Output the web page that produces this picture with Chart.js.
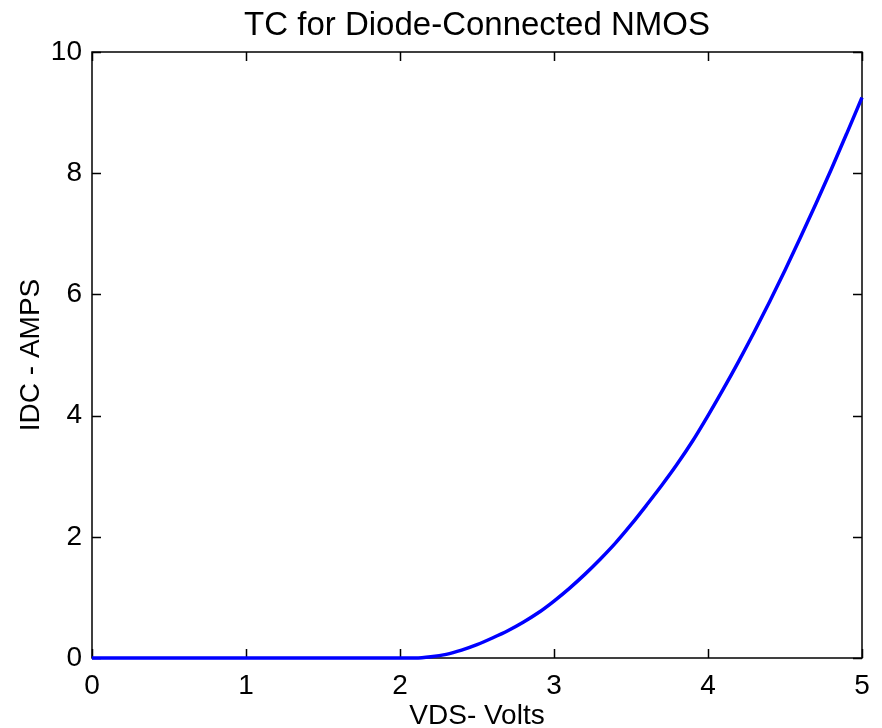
<!DOCTYPE html>
<html>
<head>
<meta charset="utf-8">
<title>TC for Diode-Connected NMOS</title>
<script src="https://cdn.jsdelivr.net/npm/chart.js@4.4.1/dist/chart.umd.min.js"></script>
<style>
  html, body { margin: 0; padding: 0; background: #fff; }
  #wrap { width: 882px; height: 728px; }
</style>
</head>
<body>
<div id="wrap"><canvas id="tcChart" width="882" height="728"></canvas></div>
<script>
// --- Sweep data: drain-source voltage (V) and drain current ---
const vds = [0, 0.5, 1, 1.5, 2, 2.1, 2.2, 2.3, 2.4, 2.5, 2.6, 2.7, 2.8, 2.9, 3,
  3.1, 3.2, 3.3, 3.4, 3.5, 3.6, 3.7, 3.8, 3.9, 4,
  4.1, 4.2, 4.3, 4.4, 4.5, 4.6, 4.7, 4.8, 4.9, 5];
const idc = [0, 0, 0, 0, 0, 0, 0.02, 0.06, 0.13, 0.22, 0.33, 0.45, 0.59, 0.75, 0.94,
  1.15, 1.38, 1.63, 1.90, 2.20, 2.52, 2.85, 3.20, 3.58, 4.00,
  4.44, 4.90, 5.38, 5.88, 6.40, 6.94, 7.49, 8.06, 8.65, 9.25];

const xTicks = [0, 1, 2, 3, 4, 5];
const yTicks = [0, 2, 4, 6, 8, 10];
const chartTitle = 'TC for Diode-Connected NMOS';

const FONT = "Arial, 'Liberation Sans', sans-serif";

// inward tick marks on all four sides plus the box frame
const boxFrame = {
    id: 'boxFrame',
    beforeDatasetsDraw(chart) {
        const { ctx, chartArea: a, scales } = chart;
        const len = 9;
        ctx.save();
        ctx.strokeStyle = '#000';
        ctx.lineWidth = 1.5;
        ctx.strokeRect(a.left, a.top, a.right - a.left, a.bottom - a.top);
        ctx.beginPath();
        xTicks.forEach(v => {
            const px = Math.round(scales.x.getPixelForValue(v)) + 0.5;
            ctx.moveTo(px, a.bottom); ctx.lineTo(px, a.bottom - len);
            ctx.moveTo(px, a.top); ctx.lineTo(px, a.top + len);
        });
        yTicks.forEach(v => {
            const py = Math.round(scales.y.getPixelForValue(v)) + 0.5;
            ctx.moveTo(a.left, py); ctx.lineTo(a.left + len, py);
            ctx.moveTo(a.right, py); ctx.lineTo(a.right - len, py);
        });
        ctx.stroke();
        ctx.restore();
    },
    // title centred over the plot box rather than the whole canvas
    afterDraw(chart) {
        const { ctx, chartArea: a } = chart;
        ctx.save();
        ctx.fillStyle = '#000';
        ctx.font = '33px ' + FONT;
        ctx.textAlign = 'center';
        ctx.textBaseline = 'alphabetic';
        ctx.fillText(chartTitle, (a.left + a.right) / 2, 35);
        ctx.restore();
    }
};

new Chart(document.getElementById('tcChart').getContext('2d'), {
    type: 'scatter',
    data: {
        datasets: [{
            data: vds.map((v, i) => ({ x: v, y: idc[i] })),
            showLine: true,
            borderColor: '#0000ff',
            borderWidth: 3.5,
            pointRadius: 0,
            cubicInterpolationMode: 'monotone',
            clip: 4
        }]
    },
    options: {
        responsive: false,
        animation: false,
        layout: { padding: { top: 52, right: 20, bottom: 0, left: 0 } },
        plugins: {
            legend: { display: false },
            tooltip: { enabled: false },
            title: { display: false }
        },
        scales: {
            x: {
                type: 'linear',
                min: 0, max: 5,
                afterBuildTicks: s => { s.ticks = xTicks.map(v => ({ value: v })); },
                afterFit: s => { s.height = 70; },
                grid: { display: false, drawTicks: false },
                border: { display: false },
                ticks: { color: '#000', padding: 11, font: { family: FONT, size: 28 } },
                title: {
                    display: true,
                    text: 'VDS- Volts',
                    color: '#000',
                    padding: { top: 0, bottom: -5 },
                    font: { family: FONT, size: 28 }
                }
            },
            y: {
                type: 'linear',
                min: 0, max: 10,
                afterBuildTicks: s => { s.ticks = yTicks.map(v => ({ value: v })); },
                afterFit: s => { s.width = 92; },
                grid: { display: false, drawTicks: false },
                border: { display: false },
                ticks: { color: '#000', padding: 10, font: { family: FONT, size: 28 } },
                title: {
                    display: true,
                    text: 'IDC - AMPS',
                    color: '#000',
                    padding: { top: 14, bottom: 0 },
                    font: { family: FONT, size: 28 }
                }
            }
        }
    },
    plugins: [boxFrame]
});
</script>
</body>
</html>
